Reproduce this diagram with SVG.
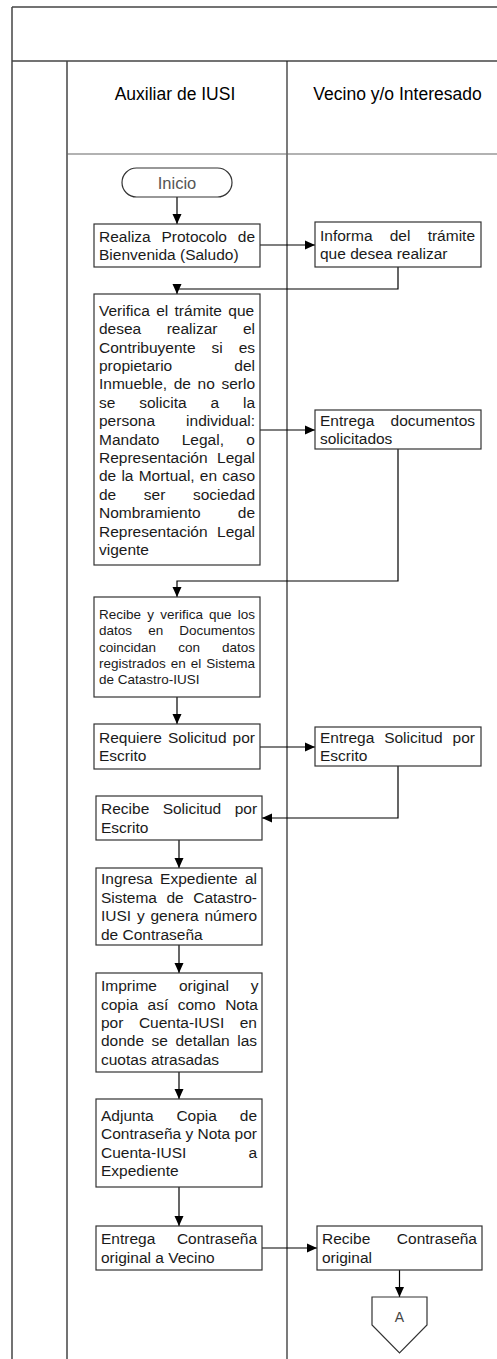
<svg xmlns="http://www.w3.org/2000/svg" width="497" height="1359" viewBox="0 0 497 1359">
<style>
.frame{stroke:#444;stroke-width:1.5;fill:none}
.lane{stroke:#222;stroke-width:1.2;fill:none}
.box{fill:#fff;stroke:#333;stroke-width:1.2}
.hd{font-family:"Liberation Sans",Arial,sans-serif;font-size:17.5px;fill:#000;text-anchor:middle}
.t{font-family:"Liberation Sans",Arial,sans-serif;font-size:15.5px;fill:#1a1a1a}
.s{font-family:"Liberation Sans",Arial,sans-serif;font-size:13.5px;fill:#1a1a1a}
.term{font-family:"Liberation Sans",Arial,sans-serif;font-size:16.5px;fill:#555;text-anchor:middle}
.conn{stroke:#000;stroke-width:1.2;fill:none;marker-end:url(#ah)}
</style>
<defs>
<marker id="ah" markerUnits="userSpaceOnUse" markerWidth="10" markerHeight="10" refX="10" refY="5" orient="auto">
<path d="M0,0.5 L10,5 L0,9.5 z" fill="#000"/>
</marker>
</defs>
<rect width="497" height="1359" fill="#fff"/>
<g id="frame">
<line class="frame" x1="12" y1="7" x2="497" y2="7"/>
<line class="frame" x1="12" y1="7" x2="12" y2="1359"/>
<line class="frame" x1="12" y1="61" x2="497" y2="61"/>
<line class="frame" x1="67" y1="61" x2="67" y2="1359"/>
<line class="lane" x1="287" y1="61" x2="287" y2="1359"/>
<line class="lane" x1="67" y1="154" x2="497" y2="154" style="stroke:#666"/>
</g>
<g id="lane-headers">
<text class="hd" x="175" y="100">Auxiliar de IUSI</text>
<text class="hd" x="397.5" y="100">Vecino y/o Interesado</text>
</g>
<g id="connectors">
<line class="conn" x1="177" y1="197" x2="177" y2="224"/>
<line class="conn" x1="260" y1="245" x2="315" y2="245"/>
<polyline class="conn" points="398,267 398,289 177,289 177,294"/>
<line class="conn" x1="260" y1="430" x2="315" y2="430"/>
<polyline class="conn" points="398,449 398,581 177,581 177,597"/>
<line class="conn" x1="177" y1="697" x2="177" y2="724"/>
<line class="conn" x1="260" y1="747" x2="315" y2="747"/>
<polyline class="conn" points="398,766 398,818 262,818"/>
<line class="conn" x1="179" y1="840" x2="179" y2="868"/>
<line class="conn" x1="179" y1="945" x2="179" y2="973"/>
<line class="conn" x1="179" y1="1072" x2="179" y2="1099"/>
<line class="conn" x1="179" y1="1187" x2="179" y2="1226"/>
<line class="conn" x1="262" y1="1248" x2="317" y2="1248"/>
<line class="conn" x1="399.5" y1="1270" x2="399.5" y2="1297"/>
</g>
<g id="inicio">
<rect class="box" x="122" y="168" width="110" height="29" rx="14.5"/>
<text class="term" x="177" y="189">Inicio</text>
</g>
<g id="n1">
<rect class="box" x="94" y="224" width="166" height="43"/>
<text class="t" x="99" y="241.7" word-spacing="6.5">Realiza Protocolo de</text>
<text class="t" x="99" y="260.1">Bienvenida (Saludo)</text>
</g>
<g id="n2">
<rect class="box" x="315" y="222" width="166" height="45"/>
<text class="t" x="320" y="240.7" word-spacing="12.9">Informa del trámite</text>
<text class="t" x="320" y="259.1">que desea realizar</text>
</g>
<g id="n3">
<rect class="box" x="94" y="294" width="166" height="271"/>
<text class="t" x="99" y="315.8" word-spacing="2.03">Verifica el trámite que</text>
<text class="t" x="99" y="334.2" word-spacing="21.15">desea realizar el</text>
<text class="t" x="99" y="352.6" word-spacing="11.66">Contribuyente si es</text>
<text class="t" x="99" y="371" word-spacing="57.8">propietario del</text>
<text class="t" x="99" y="389.4" word-spacing="2.32">Inmueble, de no serlo</text>
<text class="t" x="99" y="407.8" word-spacing="19.56">se solicita a la</text>
<text class="t" x="99" y="426.2" word-spacing="26.8">persona individual:</text>
<text class="t" x="99" y="444.6" word-spacing="18.1">Mandato Legal, o</text>
<text class="t" x="99" y="463" word-spacing="5.2">Representación Legal</text>
<text class="t" x="99" y="481.4" word-spacing="0.88">de la Mortual, en caso</text>
<text class="t" x="99" y="499.8" word-spacing="23.3">de ser sociedad</text>
<text class="t" x="99" y="518.2" word-spacing="32.8">Nombramiento de</text>
<text class="t" x="99" y="536.6" word-spacing="5.2">Representación Legal</text>
<text class="t" x="99" y="555">vigente</text>
</g>
<g id="n4">
<rect class="box" x="315" y="410" width="166" height="39"/>
<text class="t" x="320" y="425.7" word-spacing="12">Entrega documentos</text>
<text class="t" x="320" y="444.1">solicitados</text>
</g>
<g id="n5">
<rect class="box" x="94" y="597" width="166" height="100"/>
<text class="s" x="99" y="619" word-spacing="2.43">Recibe y verifica que los</text>
<text class="s" x="99" y="635.3" word-spacing="12.35">datos en Documentos</text>
<text class="s" x="99" y="651.6" word-spacing="18.35">coincidan con datos</text>
<text class="s" x="99" y="667.9" word-spacing="1.23">registrados en el Sistema</text>
<text class="s" x="99" y="684.2">de Catastro-IUSI</text>
</g>
<g id="n6">
<rect class="box" x="94" y="724" width="166" height="45"/>
<text class="t" x="99" y="742.7" word-spacing="1.75">Requiere Solicitud por</text>
<text class="t" x="99" y="761.1">Escrito</text>
</g>
<g id="n7">
<rect class="box" x="315" y="727" width="166" height="39"/>
<text class="t" x="320" y="742.7" word-spacing="5.55">Entrega Solicitud por</text>
<text class="t" x="320" y="761.1">Escrito</text>
</g>
<g id="n8">
<rect class="box" x="96" y="796" width="166" height="44"/>
<text class="t" x="101" y="814.2" word-spacing="9.1">Recibe Solicitud por</text>
<text class="t" x="101" y="832.6">Escrito</text>
</g>
<g id="n9">
<rect class="box" x="96" y="868" width="166" height="77"/>
<text class="t" x="101" y="884.3" word-spacing="3.05">Ingresa Expediente al</text>
<text class="t" x="101" y="902.7" word-spacing="5.2">Sistema de Catastro-</text>
<text class="t" x="101" y="921.1" word-spacing="1.47">IUSI y genera número</text>
<text class="t" x="101" y="939.5">de Contraseña</text>
</g>
<g id="n10">
<rect class="box" x="96" y="973" width="166" height="99"/>
<text class="t" x="101" y="991.1" word-spacing="17.6">Imprime original y</text>
<text class="t" x="101" y="1009.5" word-spacing="5.2">copia así como Nota</text>
<text class="t" x="101" y="1027.9" word-spacing="11.2">por Cuenta-IUSI en</text>
<text class="t" x="101" y="1046.3" word-spacing="3.17">donde se detallan las</text>
<text class="t" x="101" y="1064.7">cuotas atrasadas</text>
</g>
<g id="n11">
<rect class="box" x="96" y="1099" width="166" height="88"/>
<text class="t" x="101" y="1120.8" word-spacing="18.55">Adjunta Copia de</text>
<text class="t" x="101" y="1139.2">Contraseña y Nota por</text>
<text class="t" x="101" y="1157.6" word-spacing="57.8">Cuenta-IUSI a</text>
<text class="t" x="101" y="1176">Expediente</text>
</g>
<g id="n12">
<rect class="box" x="96" y="1226" width="166" height="44"/>
<text class="t" x="101" y="1244.2" word-spacing="17.3">Entrega Contraseña</text>
<text class="t" x="101" y="1262.6">original a Vecino</text>
</g>
<g id="n13">
<rect class="box" x="317" y="1226" width="165" height="44"/>
<text class="t" x="322" y="1244.2" word-spacing="22.3">Recibe Contraseña</text>
<text class="t" x="322" y="1262.6">original</text>
</g>
<g id="connA">
<polygon class="box" points="372,1297 427,1297 427,1325 399.5,1353 372,1325"/>
<text class="term" x="399.5" y="1322" style="font-size:14px;fill:#444">A</text>
</g>
</svg>
